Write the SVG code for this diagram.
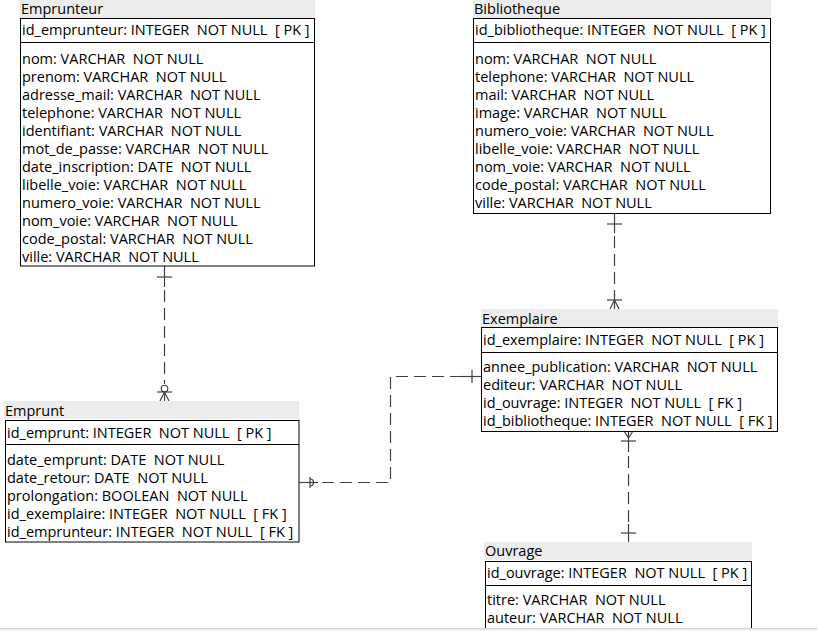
<svg xmlns="http://www.w3.org/2000/svg" width="817" height="631" viewBox="0 0 817 631" xml:space="preserve">
<style>
.hdr{fill:#ececec}
.box{fill:#ffffff;stroke:#000000;stroke-width:1}
.sep{stroke:#000000;stroke-width:1}
text{font-family:"Open Sans","Liberation Sans",Arial,sans-serif;font-size:14.5px;fill:#000000;white-space:pre}
.ln{stroke:#404040;stroke-width:1.2;fill:none}
.dash{stroke-dasharray:12 6}
.circ{stroke:#404040;stroke-width:1.1;fill:#ffffff}
</style>
<rect width="817" height="631" fill="#ffffff"/>

<g id="connectors">
  <!-- Emprunteur -> Emprunt -->
  <line class="ln" x1="164.5" y1="266" x2="164.5" y2="287"/>
  <line class="ln dash" x1="164.5" y1="290" x2="164.5" y2="384"/>
  <line class="ln" x1="157" y1="277" x2="172" y2="277"/>
  <circle class="circ" cx="164.5" cy="388.5" r="3.3"/>
  <line class="ln" x1="164.5" y1="392" x2="164.5" y2="401"/>
  <line class="ln" x1="157" y1="392" x2="172" y2="392"/>
  <path class="ln" d="M160,401 L164.5,392 L169,401"/>

  <!-- Bibliotheque -> Exemplaire -->
  <line class="ln" x1="614.5" y1="213" x2="614.5" y2="233"/>
  <line class="ln dash" x1="614.5" y1="236" x2="614.5" y2="296"/>
  <line class="ln" x1="614.5" y1="294" x2="614.5" y2="309"/>
  <line class="ln" x1="607" y1="224" x2="622" y2="224"/>
  <line class="ln" x1="607" y1="300" x2="622" y2="300"/>
  <path class="ln" d="M610,309 L614.5,300 L619,309"/>

  <!-- Emprunt -> Exemplaire -->
  <line class="ln" x1="299" y1="482.5" x2="318" y2="482.5"/>
  <line class="ln" x1="310" y1="477" x2="310" y2="488"/>
  <path class="ln" d="M310,479 A3.5,3.5 0 1 1 310,486"/>
  <path class="ln dash" d="M322,482.5 L390.5,482.5 L390.5,376.5 L462,376.5"/>
  <line class="ln" x1="462" y1="376.5" x2="481" y2="376.5"/>
  <line class="ln" x1="472" y1="370" x2="472" y2="383"/>

  <!-- Exemplaire -> Ouvrage -->
  <line class="ln" x1="628.5" y1="431" x2="628.5" y2="452"/>
  <path class="ln" d="M624,431 L628.5,438 L633,431"/>
  <line class="ln" x1="621" y1="441" x2="636" y2="441"/>
  <line class="ln dash" x1="628.5" y1="456" x2="628.5" y2="526"/>
  <line class="ln" x1="628.5" y1="524" x2="628.5" y2="542"/>
  <line class="ln" x1="621" y1="533" x2="636" y2="533"/>
</g>

<g id="emprunteur">
  <rect class="hdr" x="20" y="0" width="295" height="18"/>
  <text x="21" y="14">Emprunteur</text>
  <rect class="box" x="20.5" y="18.5" width="294" height="247.5"/>
  <line class="sep" x1="20.5" y1="42.5" x2="314.5" y2="42.5"/>
  <text x="22" y="35">id_emprunteur: INTEGER  NOT NULL  [ PK ]</text>
  <text x="22" y="64">nom: VARCHAR  NOT NULL</text>
  <text x="22" y="82">prenom: VARCHAR  NOT NULL</text>
  <text x="22" y="100">adresse_mail: VARCHAR  NOT NULL</text>
  <text x="22" y="118">telephone: VARCHAR  NOT NULL</text>
  <text x="22" y="136">identifiant: VARCHAR  NOT NULL</text>
  <text x="22" y="154">mot_de_passe: VARCHAR  NOT NULL</text>
  <text x="22" y="172">date_inscription: DATE  NOT NULL</text>
  <text x="22" y="190">libelle_voie: VARCHAR  NOT NULL</text>
  <text x="22" y="208">numero_voie: VARCHAR  NOT NULL</text>
  <text x="22" y="226">nom_voie: VARCHAR  NOT NULL</text>
  <text x="22" y="244">code_postal: VARCHAR  NOT NULL</text>
  <text x="22" y="262">ville: VARCHAR  NOT NULL</text>
</g>

<g id="bibliotheque">
  <rect class="hdr" x="473" y="0" width="298" height="18"/>
  <text x="474" y="14">Bibliotheque</text>
  <rect class="box" x="473.5" y="18.5" width="297" height="195"/>
  <line class="sep" x1="473.5" y1="42.5" x2="770.5" y2="42.5"/>
  <text x="475" y="35">id_bibliotheque: INTEGER  NOT NULL  [ PK ]</text>
  <text x="475" y="64">nom: VARCHAR  NOT NULL</text>
  <text x="475" y="82">telephone: VARCHAR  NOT NULL</text>
  <text x="475" y="100">mail: VARCHAR  NOT NULL</text>
  <text x="475" y="118">image: VARCHAR  NOT NULL</text>
  <text x="475" y="136">numero_voie: VARCHAR  NOT NULL</text>
  <text x="475" y="154">libelle_voie: VARCHAR  NOT NULL</text>
  <text x="475" y="172">nom_voie: VARCHAR  NOT NULL</text>
  <text x="475" y="190">code_postal: VARCHAR  NOT NULL</text>
  <text x="475" y="208">ville: VARCHAR  NOT NULL</text>
</g>

<g id="exemplaire">
  <rect class="hdr" x="481" y="309" width="297" height="18"/>
  <text x="482" y="323.5">Exemplaire</text>
  <rect class="box" x="481.5" y="327.5" width="296" height="104"/>
  <line class="sep" x1="481.5" y1="352.5" x2="777.5" y2="352.5"/>
  <text x="483" y="345">id_exemplaire: INTEGER  NOT NULL  [ PK ]</text>
  <text x="483" y="372">annee_publication: VARCHAR  NOT NULL</text>
  <text x="483" y="390">editeur: VARCHAR  NOT NULL</text>
  <text x="483" y="408">id_ouvrage: INTEGER  NOT NULL  [ FK ]</text>
  <text x="483" y="426">id_bibliotheque: INTEGER  NOT NULL  [ FK ]</text>
</g>

<g id="emprunt">
  <rect class="hdr" x="4" y="401" width="295" height="18"/>
  <text x="5" y="416">Emprunt</text>
  <rect class="box" x="5.5" y="420.5" width="293.5" height="121.5"/>
  <line class="sep" x1="5.5" y1="444.5" x2="299" y2="444.5"/>
  <text x="7" y="437.5">id_emprunt: INTEGER  NOT NULL  [ PK ]</text>
  <text x="7" y="465">date_emprunt: DATE  NOT NULL</text>
  <text x="7" y="483">date_retour: DATE  NOT NULL</text>
  <text x="7" y="501">prolongation: BOOLEAN  NOT NULL</text>
  <text x="7" y="519">id_exemplaire: INTEGER  NOT NULL  [ FK ]</text>
  <text x="7" y="537">id_emprunteur: INTEGER  NOT NULL  [ FK ]</text>
</g>

<g id="ouvrage">
  <rect class="hdr" x="484" y="542" width="268" height="18"/>
  <text x="485" y="556">Ouvrage</text>
  <rect class="box" x="485.5" y="561.5" width="266" height="80"/>
  <line class="sep" x1="485.5" y1="585.5" x2="751.5" y2="585.5"/>
  <text x="487" y="577.5">id_ouvrage: INTEGER  NOT NULL  [ PK ]</text>
  <text x="487" y="605">titre: VARCHAR  NOT NULL</text>
  <text x="487" y="623">auteur: VARCHAR  NOT NULL</text>
</g>

<rect x="0" y="628" width="817" height="3" fill="#f0f0f0"/>
<line x1="0" y1="628.5" x2="817" y2="628.5" stroke="#d4d4d4" stroke-width="1"/>
</svg>
